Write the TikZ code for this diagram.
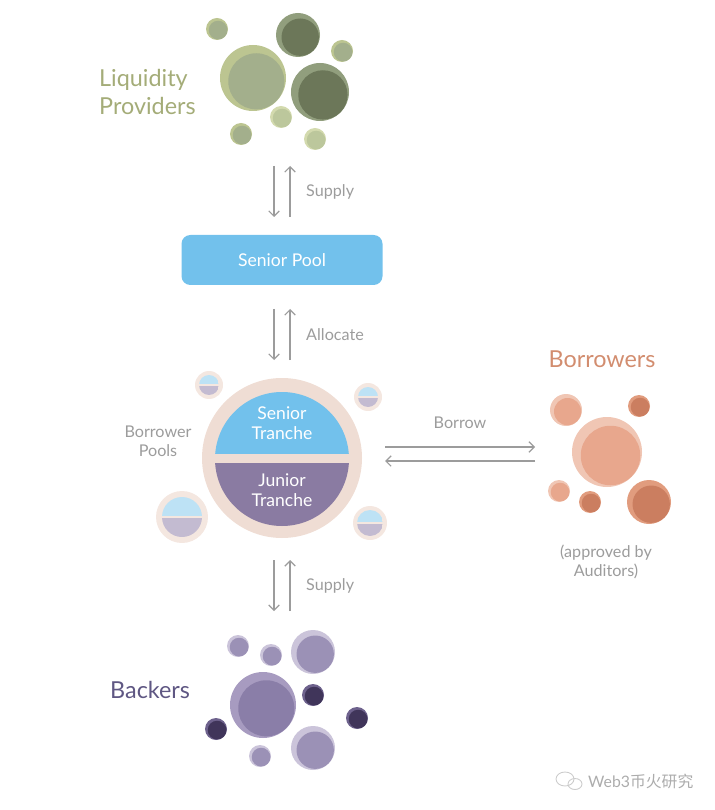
\documentclass[tikz,border=0pt]{standalone}
\usepackage{fontspec}
\setmainfont{Lato}
\newfontfamily\cjk{Noto Sans CJK SC}
\usetikzlibrary{positioning}
\usetikzlibrary{arrows.meta}
\usetikzlibrary{calc}

\definecolor{lpText}{HTML}{A4AC78}
\definecolor{lpBackA}{HTML}{BCC591}
\definecolor{lpFrontA}{HTML}{A3AF8C}
\definecolor{lpBackB}{HTML}{919E7D}
\definecolor{lpFrontB}{HTML}{6C7759}
\definecolor{lpBackC}{HTML}{D3DAAE}
\definecolor{lpFrontC}{HTML}{BCC79C}
\definecolor{poolBlue}{HTML}{72C1EC}
\definecolor{poolPurple}{HTML}{8A7BA2}
\definecolor{ring}{HTML}{EFDDD4}
\definecolor{ringLight}{HTML}{F4E7E0}
\definecolor{miniBlue}{HTML}{BDE2F5}
\definecolor{miniPurple}{HTML}{C3BBD1}
\definecolor{brText}{HTML}{D28D6F}
\definecolor{brBackA}{HTML}{F0C6B4}
\definecolor{brFrontA}{HTML}{E8A78D}
\definecolor{brBackB}{HTML}{E19C7E}
\definecolor{brFrontB}{HTML}{CB7E60}
\definecolor{bkText}{HTML}{5F5783}
\definecolor{bkBackA}{HTML}{CBC4DA}
\definecolor{bkFrontA}{HTML}{9B91B6}
\definecolor{bkBackB}{HTML}{A79BC0}
\definecolor{bkFrontB}{HTML}{8A7EA8}
\definecolor{bkBackC}{HTML}{6E628D}
\definecolor{bkFrontC}{HTML}{40355A}
\definecolor{flowGray}{HTML}{9C9C9C}

\tikzset{
  flow/.style={draw=flowGray, line width=0.7pt},
  flowtext/.style={text=flowGray, font=\fontsize{9.2}{11}\selectfont, align=center},
  bigtext/.style={font=\fontsize{13.3}{16}\selectfont, align=left},
  pooltext/.style={text=white, font=\fontsize{10}{11.5}\selectfont, align=center}
}

\begin{document}
\begin{tikzpicture}[x=0.02cm, y=-0.02cm, ->, >={Straight Barb[length=3pt,width=6pt]}]
    \useasboundingbox (0,0) rectangle (714,810);

    % liquidity providers
    \foreach \x/\y/\r/\cb/\cf in {217/29/11/lpBackA/lpFrontA, 298/35/22/lpBackB/lpFrontB,
        342/51/11/lpBackA/lpFrontA, 253/78/33/lpBackA/lpFrontA, 320/92/29/lpBackB/lpFrontB,
        281/117/11/lpBackC/lpFrontC, 241/134/11/lpBackA/lpFrontA, 315/139/11/lpBackC/lpFrontC}
    {
        \fill[\cb] (\x,\y) circle (\r);
        \fill[\cf] (\x+0.1*\r,\y+0.1*\r) circle ({0.85*\r});
    }
    \node[bigtext, text=lpText, anchor=west] (lp) at (93,92) {Liquidity\\Providers};

    % senior pool
    \node[fill=poolBlue, rounded corners=5pt, minimum width=201*0.02cm, minimum height=50*0.02cm,
          pooltext] (sp) at (282,260) {Senior Pool};

    \coordinate (sup1) at (282,166);
    \coordinate (sup2) at (282,217);
    \draw[flow] ($(sup1)+(-8,0)$) -- ($(sup2)+(-8,0)$);
    \draw[flow] ($(sup2)+(8,0)$) -- ($(sup1)+(8,0)$);
    \node[flowtext, anchor=west] (suplbl) at (300,192) {Supply};

    \coordinate (alo1) at (282,309);
    \coordinate (alo2) at (282,360);
    \draw[flow] ($(alo1)+(-8,0)$) -- ($(alo2)+(-8,0)$);
    \draw[flow] ($(alo2)+(8,0)$) -- ($(alo1)+(8,0)$);
    \node[flowtext, anchor=west] (alolbl) at (300,335) {Allocate};

    % borrower pools
    \foreach \x/\y/\R/\r in {209/385/14/10, 368/397/14/10, 182/517/26/20, 370/523/17/13}
    {
        \fill[ringLight] (\x,\y) circle (\R);
        \begin{scope}
            \clip (\x,\y) circle (\r);
            \fill[miniBlue] (\x-\r,\y-\r) rectangle (\x+\r,\y-0.07*\r);
            \fill[miniPurple] (\x-\r,\y+0.07*\r) rectangle (\x+\r,\y+\r);
        \end{scope}
    }
    \node[circle, fill=ring, minimum size=160*0.02cm] (pool) at (282,458) {};
    \begin{scope}
        \clip (282,459) circle (67);
        \fill[poolBlue] (200,380) rectangle (370,454);
        \fill[poolPurple] (200,463) rectangle (370,540);
    \end{scope}
    \node[pooltext] (senior) at (282,423) {Senior\\Tranche};
    \node[pooltext] (junior) at (282,490) {Junior\\Tranche};
    \node[flowtext] (bplbl) at (158,441) {Borrower\\Pools};

    % borrowers
    \coordinate (bor1) at (385,447);
    \coordinate (bor2) at (535,447);
    \draw[flow] (bor1) -- (bor2);
    \draw[flow] ($(bor2)+(0,14)$) -- ($(bor1)+(0,14)$);
    \node[flowtext] (borlbl) at (460,423) {Borrow};

    \foreach \x/\y/\r/\cb/\cf in {566/410/16/brBackA/brFrontA, 639/406/11/brBackB/brFrontB,
        607/452/35/brBackA/brFrontA, 559/491/11/brBackA/brFrontA, 590/502/11/brBackB/brFrontB,
        649/502/22/brBackB/brFrontB}
    {
        \fill[\cb] (\x,\y) circle (\r);
        \fill[\cf] (\x+0.1*\r,\y+0.1*\r) circle ({0.85*\r});
    }
    \node[bigtext, text=brText] (brlbl) at (602,359) {Borrowers};
    \node[flowtext] (audlbl) at (606,562) {(approved by\\Auditors)};

    % backers
    \coordinate (sup3) at (282,560);
    \coordinate (sup4) at (282,611);
    \draw[flow] ($(sup3)+(-8,0)$) -- ($(sup4)+(-8,0)$);
    \draw[flow] ($(sup4)+(8,0)$) -- ($(sup3)+(8,0)$);
    \node[flowtext, anchor=west] (suplbl2) at (300,586) {Supply};

    \foreach \x/\y/\r/\cb/\cf in {238/646/11/bkBackA/bkFrontA, 271/655/11/bkBackA/bkFrontA,
        313/652/22/bkBackA/bkFrontA, 263/705/33/bkBackB/bkFrontB, 313/695/11/bkBackC/bkFrontC,
        357/718/11/bkBackC/bkFrontC, 216/729/11/bkBackC/bkFrontC, 260/756/11/bkBackA/bkFrontA,
        313/748/22/bkBackA/bkFrontA}
    {
        \fill[\cb] (\x,\y) circle (\r);
        \fill[\cf] (\x+0.1*\r,\y+0.1*\r) circle ({0.85*\r});
    }
    \node[bigtext, text=bkText, anchor=west] (bklbl) at (104,690) {Backers};

    % watermark
    \draw[-, gray!40, line width=0.5pt] (565,779) ellipse (9 and 7);
    \draw[-, gray!40, line width=0.5pt] (575,784) ellipse (7 and 5.5);
    \node[text=gray!65, font=\fontsize{9}{11}\selectfont, anchor=west] (wm) at (582,781) {Web3\cjk 币火研究};
\end{tikzpicture}
\end{document}
